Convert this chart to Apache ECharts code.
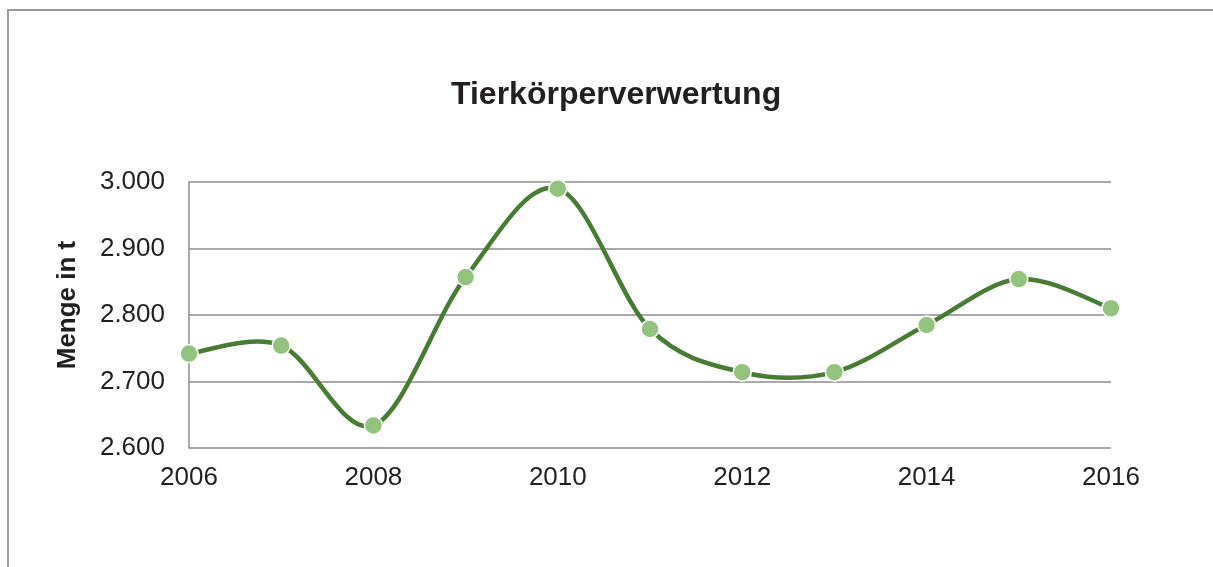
<!DOCTYPE html>
<html>
<head>
<meta charset="utf-8">
<script src="https://cdn.jsdelivr.net/npm/echarts@6/dist/echarts.min.js"></script>
<style>
  html, body { margin: 0; padding: 0; background: #fff; }
  #chart { width: 1213px; height: 567px; }
</style>
</head>
<body>
<div id="chart"></div>
<script>
// Werte
var years = ['2006', '2007', '2008', '2009', '2010', '2011', '2012', '2013', '2014', '2015', '2016']
var menge = [2742, 2754, 2634, 2857, 2990, 2779, 2714, 2714, 2785, 2854, 2810]
var yMin = 2600
var yMax = 3000
var yStep = 100

// deutsche Tausenderpunkte
function fmt(v) {
  var s = String(Math.round(v))
  return s.replace(/\B(?=(\d{3})+(?!\d))/g, '.')
}

// Excel-artige Glättung (Catmull-Rom), ein Segment je Datenpunkt
function renderSegment(params, api) {
  var i = params.dataIndexInside
  var n = params.dataInsideLength
  if (i >= n - 1) return null
  var p = function (k) {
    k = Math.max(0, Math.min(n - 1, k))
    return api.coord([k, api.value(1, k)])
  }
  var p0 = p(i - 1), p1 = p(i), p2 = p(i + 1), p3 = p(i + 2)
  return {
    type: 'bezierCurve',
    shape: {
      x1: p1[0], y1: p1[1],
      x2: p2[0], y2: p2[1],
      cpx1: p1[0] + (p2[0] - p0[0]) / 6,
      cpy1: p1[1] + (p2[1] - p0[1]) / 6,
      cpx2: p2[0] - (p3[0] - p1[0]) / 6,
      cpy2: p2[1] - (p3[1] - p1[1]) / 6
    },
    style: { fill: null, stroke: '#477d33', lineWidth: 4.5, lineCap: 'butt' }
  }
}

var chart = echarts.init(document.getElementById('chart'))
var option = {
  animation: false,
  backgroundColor: '#fff',
  textStyle: { fontFamily: 'Liberation Sans, Arial, sans-serif' },
  title: {
    text: 'Tierkörperverwertung',
    left: 446,
    top: 74,
    textStyle: { fontSize: 32, fontWeight: 'bold', color: '#231f20' }
  },
  graphic: [{
    type: 'rect',
    shape: { x: 8, y: 10, width: 1300, height: 700 },
    style: { fill: 'none', stroke: '#9a9a9a', lineWidth: 2 },
    silent: true
  }],
  grid: { left: 189, right: 102, top: 182, bottom: 119 },
  xAxis: {
    type: 'category',
    data: years,
    boundaryGap: false,
    axisLine: { show: false },
    axisTick: { show: false },
    axisLabel: { interval: 1, fontSize: 26, color: '#231f20', margin: 17 },
    splitLine: { show: false }
  },
  yAxis: {
    type: 'value',
    min: yMin,
    max: yMax,
    interval: yStep,
    name: 'Menge in t',
    nameLocation: 'middle',
    nameGap: 108,
    nameTextStyle: { fontSize: 26, fontWeight: 'bold', color: '#231f20', padding: [0, 0, 0, 20] },
    axisLine: { show: true, lineStyle: { color: '#8c8c8c', width: 1.5 } },
    axisTick: { show: false },
    axisLabel: { fontSize: 26, color: '#231f20', margin: 24, formatter: fmt },
    splitLine: { show: true, lineStyle: { color: '#8c8c8c', width: 1.5 } }
  },
  series: [{
    type: 'custom',
    data: menge.map(function (v, k) { return [k, v] }),
    renderItem: renderSegment,
    clip: false,
    z: 2
  }, {
    type: 'scatter',
    data: menge,
    symbol: 'circle',
    symbolSize: 18,
    itemStyle: { color: '#93c47e', borderColor: '#fff', borderWidth: 1.5, opacity: 1 },
    z: 3
  }]
}
chart.setOption(option)
</script>
</body>
</html>
